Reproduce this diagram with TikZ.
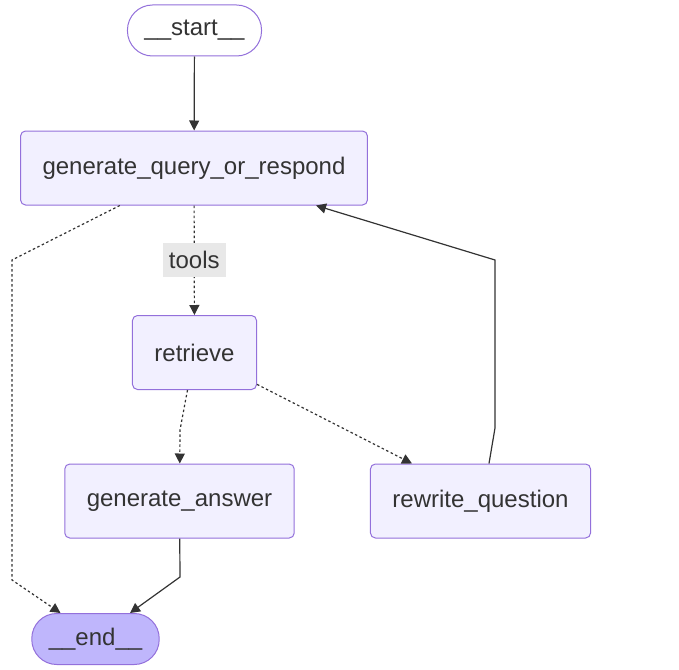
\documentclass[tikz,border=0pt]{standalone}
\usepackage{fontspec}
\setmainfont{Liberation Sans}
\usetikzlibrary{arrows.meta}

\definecolor{nodefill}{HTML}{F2F0FF}
\definecolor{nodeline}{HTML}{9370DB}
\definecolor{endfill}{HTML}{BFB6FC}
\definecolor{edgeline}{HTML}{333333}
\definecolor{labelfill}{HTML}{E8E8E8}

\tikzset{
  box/.style={draw=nodeline, fill=nodefill, line width=1pt, rounded corners=5pt,
    minimum height=74pt, inner xsep=22pt, text=edgeline,
    font=\fontsize{24}{28}\selectfont},
  pill/.style={box, rounded corners=25pt, minimum height=51pt, inner xsep=17pt},
  edgelabel/.style={fill=labelfill, text=edgeline, inner xsep=6pt,
    minimum height=34pt, font=\fontsize{24}{28}\selectfont},
  edge/.style={draw=edgeline, line width=1.2pt, -{Triangle[length=10pt,width=10pt]}},
  dotedge/.style={edge, dash pattern=on 2.5pt off 2.5pt},
}

\begin{document}
\begin{tikzpicture}[x=1pt,y=-1pt]
    \useasboundingbox (0,0) rectangle (679,669);

    %% nodes
    \node [pill, fill=white]   (start)     at (194.5,30.5)  {\_\_start\_\_};
    \node [box]                (gqr)       at (194,168)     {generate\_query\_or\_respond};
    \node [box]                (retrieve)  at (194.5,352.5) {retrieve};
    \node [box]                (genanswer) at (179.5,501)   {generate\_answer};
    \node [box]                (rewrite)   at (480.5,501)   {rewrite\_question};
    \node [pill, fill=endfill] (finish)    at (95.5,639)    {\_\_end\_\_};

    %% bends
    \coordinate (leftup)   at (12,260);
    \coordinate (leftdown) at (12,580);
    \coordinate (retbend)  at (180,430);
    \coordinate (ansbend)  at (180,577);
    \coordinate (rewbend)  at (495,428);
    \coordinate (rewup)    at (495,260);

    %% edges
    \draw [edge] (start) -- (gqr);
    \draw [dotedge] (gqr) -- (retrieve) node [edgelabel, midway] (tools) {tools};
    \draw [dotedge] (gqr) -- (leftup) -- (leftdown) -- ([xshift=-35pt]finish.north);
    \draw [dotedge] (retrieve) -- (retbend) -- (genanswer);
    \draw [dotedge] (retrieve) -- ([xshift=-68.5pt]rewrite.north);
    \draw [edge] ([xshift=8.5pt]rewrite.north) -- (rewbend) -- (rewup) -- ([xshift=122pt]gqr.south);
    \draw [edge] (genanswer) -- (ansbend) -- ([xshift=34.5pt]finish.north);
\end{tikzpicture}
\end{document}
